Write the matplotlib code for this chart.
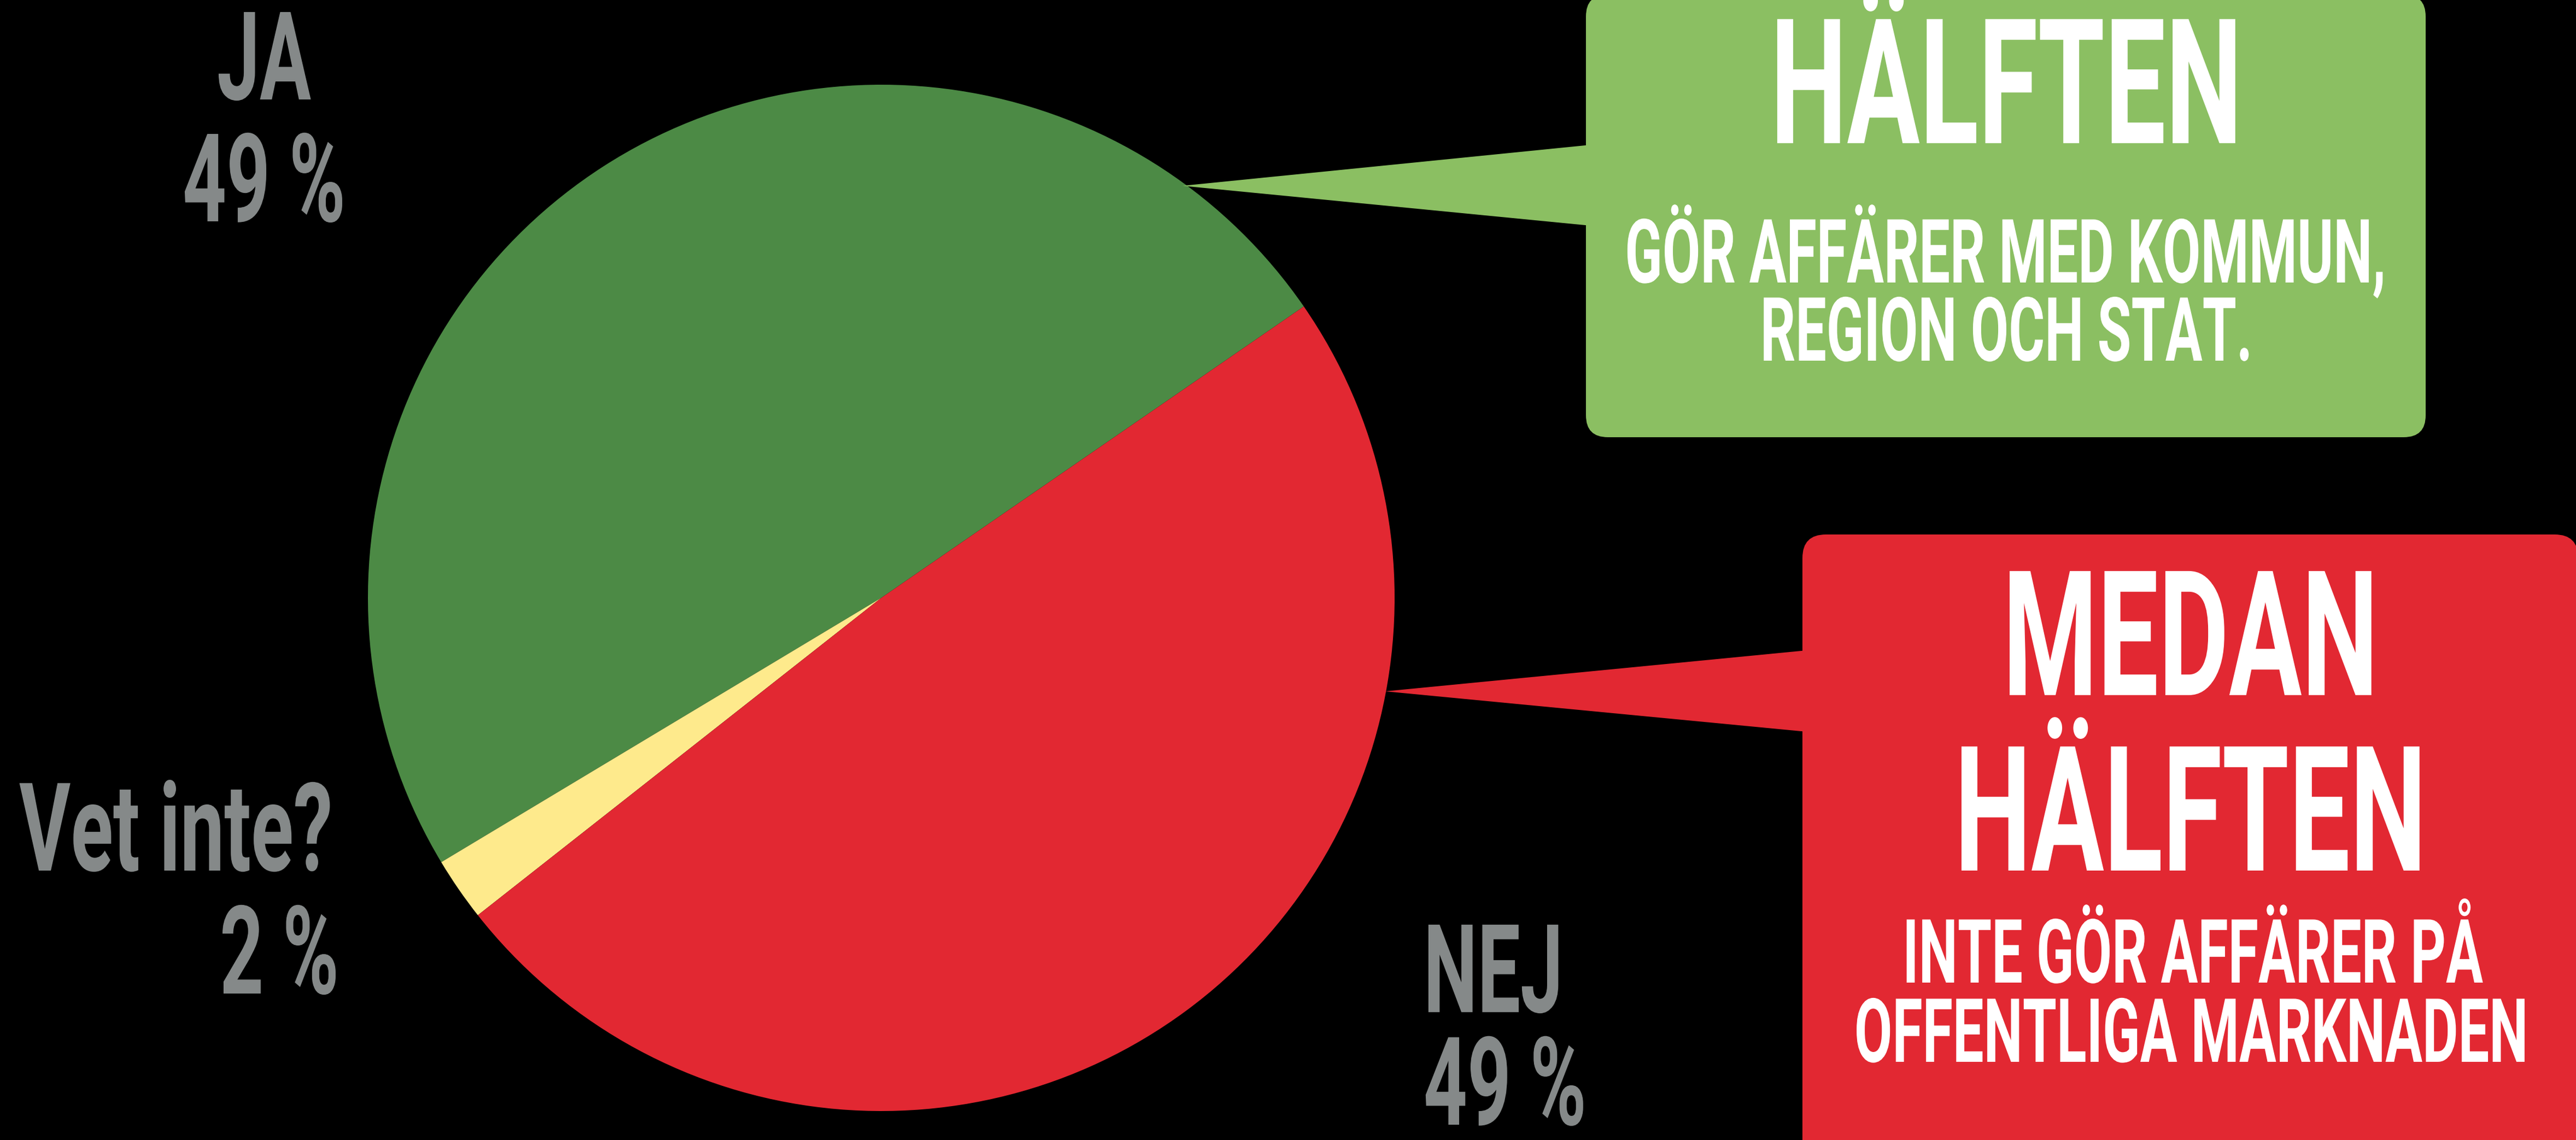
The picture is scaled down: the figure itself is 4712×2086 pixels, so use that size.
import matplotlib
matplotlib.use('Agg')
import matplotlib.pyplot as plt
import matplotlib.patheffects as pe
from matplotlib.patches import FancyBboxPatch, Polygon
from matplotlib.transforms import Affine2D

# Survey answers: does the company do business with the public sector?
answers = ['JA', 'Vet inte?', 'NEJ']
shares = [49, 2, 49]
slice_colors = ['#4C8A45', '#FEEA8C', '#E22832']

# Callout texts.
green_head = 'HÄLFTEN'
green_sub = ['GÖR AFFÄRER MED KOMMUN,', 'REGION OCH STAT.']
red_head = ['MEDAN', 'HÄLFTEN']
red_sub = ['INTE GÖR AFFÄRER PÅ', 'OFFENTLIGA MARKNADEN']

W, H = 4712, 2086
GRAY = '#858989'
LIGHT_GREEN = '#8BBF62'
RED = '#E22832'
FONT = ['Roboto', 'DejaVu Sans']
NARROW = 0.62   # width / height ratio of the condensed lettering


# Stretches the glyphs upwards from the baseline (tall, condensed look).
class Stretch(pe.AbstractPathEffect):
    def __init__(self, ax, y, sy):
        super().__init__()
        self.ax, self.y, self.sy = ax, y, sy

    def draw_path(self, renderer, gc, tpath, affine, rgbFace=None):
        y0 = self.ax.transData.transform((0, self.y))[1]
        stretch = Affine2D().translate(0, -y0).scale(1, self.sy).translate(0, y0)
        renderer.draw_path(gc, tpath, affine + stretch, rgbFace)


fig = plt.figure(figsize=(W / 100, H / 100), dpi=100, facecolor='black')
ax = fig.add_axes([0, 0, 1, 1])
ax.set_facecolor('black')

# y values below are baselines measured from the top of the picture;
# size is the font size that the caps height corresponds to.
def label(x, y_top, s, size, color, ha='center', narrow=NARROW):
    y = H - y_top
    ax.text(x, y, s, fontsize=size * narrow, color=color, ha=ha, va='baseline',
            family=FONT, fontweight='bold', zorder=5,
            path_effects=[Stretch(ax, y, 1 / narrow)])

# Pie.
ax.pie(shares, colors=slice_colors, startangle=34.6, counterclock=True,
       center=(1612, H - 1094), radius=939,
       wedgeprops=dict(linewidth=0, antialiased=True))

# Green callout.
ax.add_patch(FancyBboxPatch((2901, H - 800), 4437 - 2901, 810,
                            boxstyle='round,pad=0,rounding_size=40',
                            facecolor=LIGHT_GREEN, edgecolor='none', zorder=3))
ax.add_patch(Polygon([(2163, H - 340), (2910, H - 265), (2910, H - 413)],
                     closed=True, facecolor=LIGHT_GREEN, edgecolor='none', zorder=3))

# Red callout.
ax.add_patch(FancyBboxPatch((3297, -60), 4716 - 3297, H - 978 + 60,
                            boxstyle='round,pad=0,rounding_size=43',
                            facecolor=RED, edgecolor='none', zorder=3))
ax.add_patch(Polygon([(2534, H - 1265), (3305, H - 1190), (3305, H - 1339)],
                     closed=True, facecolor=RED, edgecolor='none', zorder=3))

# Slice labels.
label(483, 182, answers[0], 162, GRAY)
label(483, 405, f'{shares[0]} %', 162, GRAY)
label(35, 1593, answers[1], 162, GRAY, ha='left', narrow=0.64)
label(620, 1818, f'{shares[1]} %', 162, GRAY, ha='right')
label(2604, 1852, answers[2], 162, GRAY, ha='left')
label(2604, 2058, f'{shares[2]} %', 162, GRAY, ha='left')

# Callout texts.
label(3670, 262, green_head, 230, 'white')
label(3668, 517, green_sub[0], 117, 'white')
label(3670, 660, green_sub[1], 117, 'white')
label(4007, 1272, red_head[0], 230, 'white')
label(4007, 1593, red_head[1], 230, 'white')
label(4011, 1798, red_sub[0], 117, 'white')
label(4008, 1943, red_sub[1], 117, 'white')

ax.set_xlim(0, W)
ax.set_ylim(0, H)
ax.axis('off')

fig.savefig('out.png', dpi=100, facecolor='black')
